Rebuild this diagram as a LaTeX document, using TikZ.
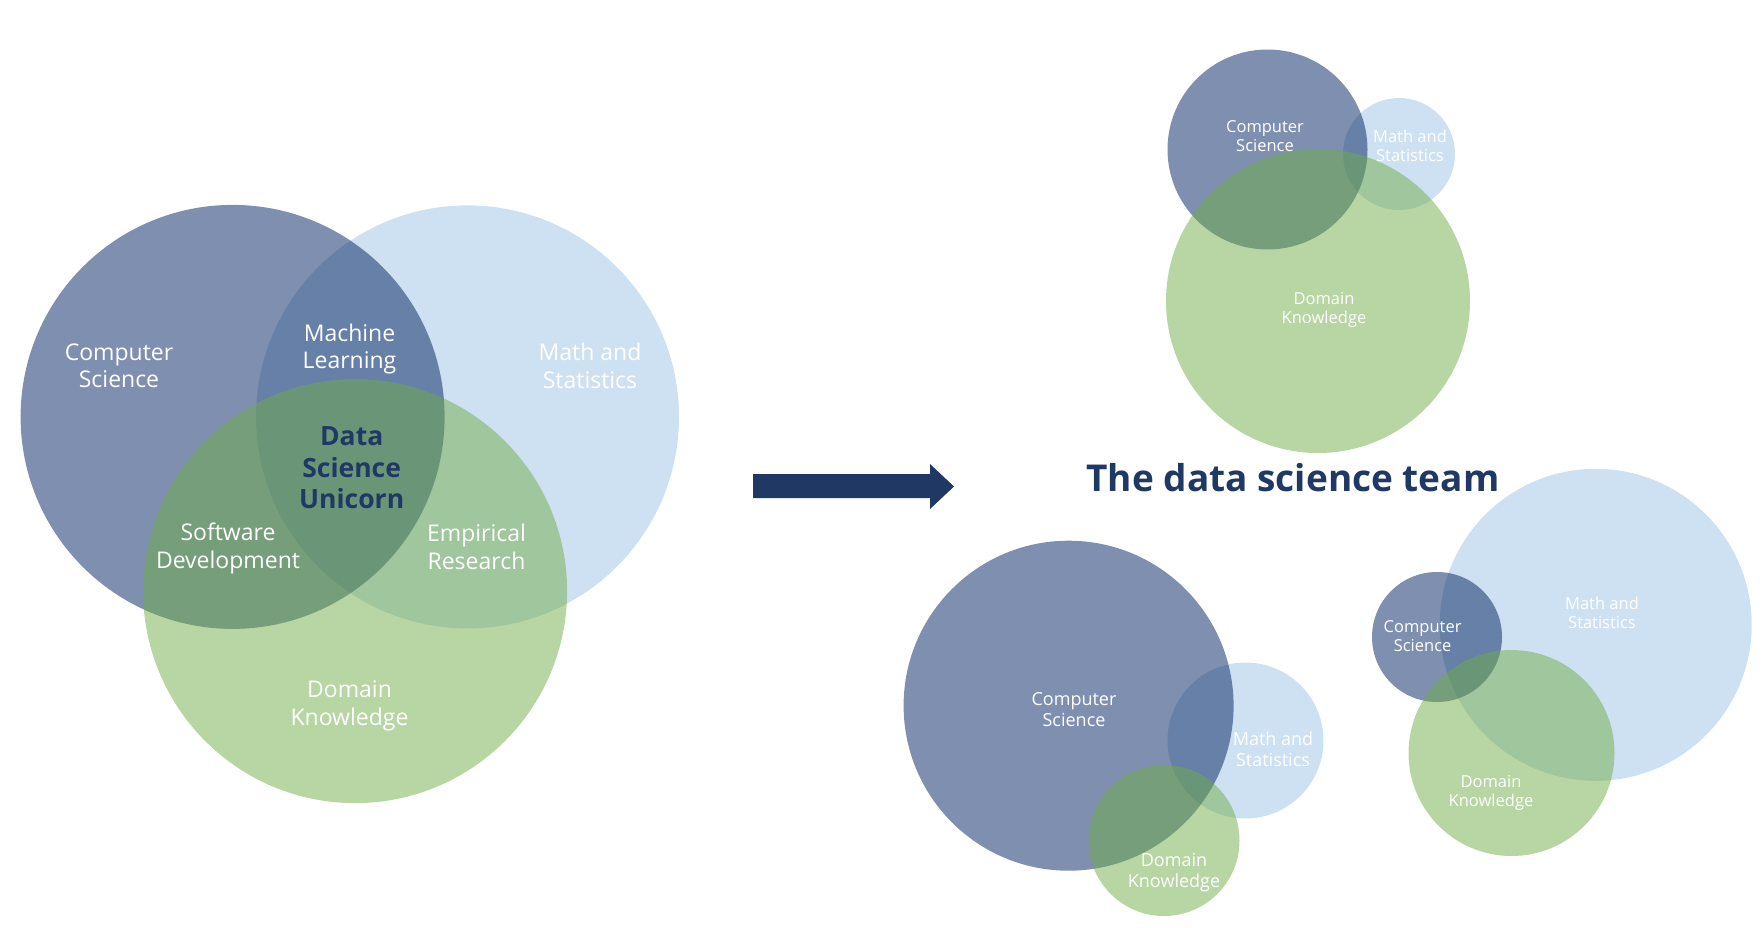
\documentclass[tikz,border=0pt]{standalone}
\usepackage{fontspec}
\setmainfont{Open Sans}
\definecolor{csblue}{HTML}{002060}
\definecolor{msblue}{HTML}{5B9BD5}
\definecolor{dkgreen}{HTML}{70AD47}
\definecolor{navy}{HTML}{203864}
\tikzset{
  circ/.style={circle, draw=none, inner sep=0pt, minimum size=#1},
  cscirc/.style={circ=#1, fill=csblue, fill opacity=0.5},
  mscirc/.style={circ=#1, fill=msblue, fill opacity=0.3},
  dkcirc/.style={circ=#1, fill=dkgreen, fill opacity=0.5},
  lbl/.style={text=white, align=center, inner sep=0pt},
  lblbig/.style={lbl, font=\fontsize{23}{27.5}\selectfont},
  lblmid/.style={lbl, font=\fontsize{18}{21}\selectfont},
  lblsmall/.style={lbl, font=\fontsize{16.5}{19.5}\selectfont},
  unicorn/.style={text=navy, align=center, inner sep=0pt, font=\bfseries\fontsize{26.5}{31.5}\selectfont},
  titlestyle/.style={text=navy, inner sep=0pt, font=\bfseries\fontsize{37}{44}\selectfont},
}
\begin{document}
\begin{tikzpicture}[x=1pt,y=-1pt]
\useasboundingbox (0,0) rectangle (1762,927);
% ---------- Left Venn ----------
\node[mscirc=423pt] (Lms) at (467.5,416.9) {};
\node[cscirc=424pt] (Lcs) at (232.6,416.9) {};
\node[dkcirc=424pt] (Ldk) at (355.1,591.1) {};
\node[lblbig] (Lcst) at (119,366) {Computer\\Science};
\node[lblbig] (Lml) at (349.5,349) {Machine\\Learning};
\node[lblbig] (Lmst) at (590,366) {Math and\\Statistics};
\node[unicorn] (Luni) at (351.7,468) {Data\\Science\\Unicorn};
\node[lblbig] (Lsd) at (228,548.5) {Software\\Development};
\node[lblbig] (Ler) at (476.5,547) {Empirical\\Research};
\node[lblbig] (Ldkt) at (349.5,706) {Domain\\Knowledge};
% ---------- Arrow ----------
\coordinate (a1) at (753,474);
\coordinate (tip) at (954,486.5);
\fill[navy] (a1) -- (930,474) -- (930,464) -- (tip) -- (930,509) -- (930,498) -- (753,498) -- cycle;
% ---------- Title ----------
\node[titlestyle] (title) at (1293,478) {The data science team};
% ---------- Top right group ----------
\node[mscirc=112pt] (Ams) at (1399,154) {};
\node[cscirc=200pt] (Acs) at (1267.5,149.5) {};
\node[dkcirc=304pt] (Adk) at (1318,301) {};
\node[lblsmall] (Acst) at (1265,136) {Computer\\Science};
\node[lblsmall] (Amst) at (1410,146) {Math and\\Statistics};
\node[lblsmall] (Adkt) at (1324,310) {Domain\\Knowledge};
% ---------- Bottom left group ----------
\node[mscirc=156pt] (Bms) at (1245.5,740.5) {};
\node[cscirc=330pt] (Bcs) at (1068.6,705.7) {};
\node[dkcirc=151pt] (Bdk) at (1164,840.5) {};
\node[lblmid] (Bcst) at (1074,710) {Computer\\Science};
\node[lblmid] (Bmst) at (1273,749) {Math and\\Statistics};
\node[lblmid] (Bdkt) at (1174,873) {Domain\\Knowledge};
% ---------- Bottom right group ----------
\node[mscirc=312pt] (Cms) at (1595.7,624.8) {};
\node[cscirc=130pt] (Ccs) at (1437,637) {};
\node[dkcirc=206pt] (Cdk) at (1511.5,753) {};
\node[lblsmall] (Ccst) at (1422.6,636) {Computer\\Science};
\node[lblsmall] (Cmst) at (1602,613) {Math and\\Statistics};
\node[lblsmall] (Cdkt) at (1491,793) {Domain\\Knowledge};
\end{tikzpicture}
\end{document}
